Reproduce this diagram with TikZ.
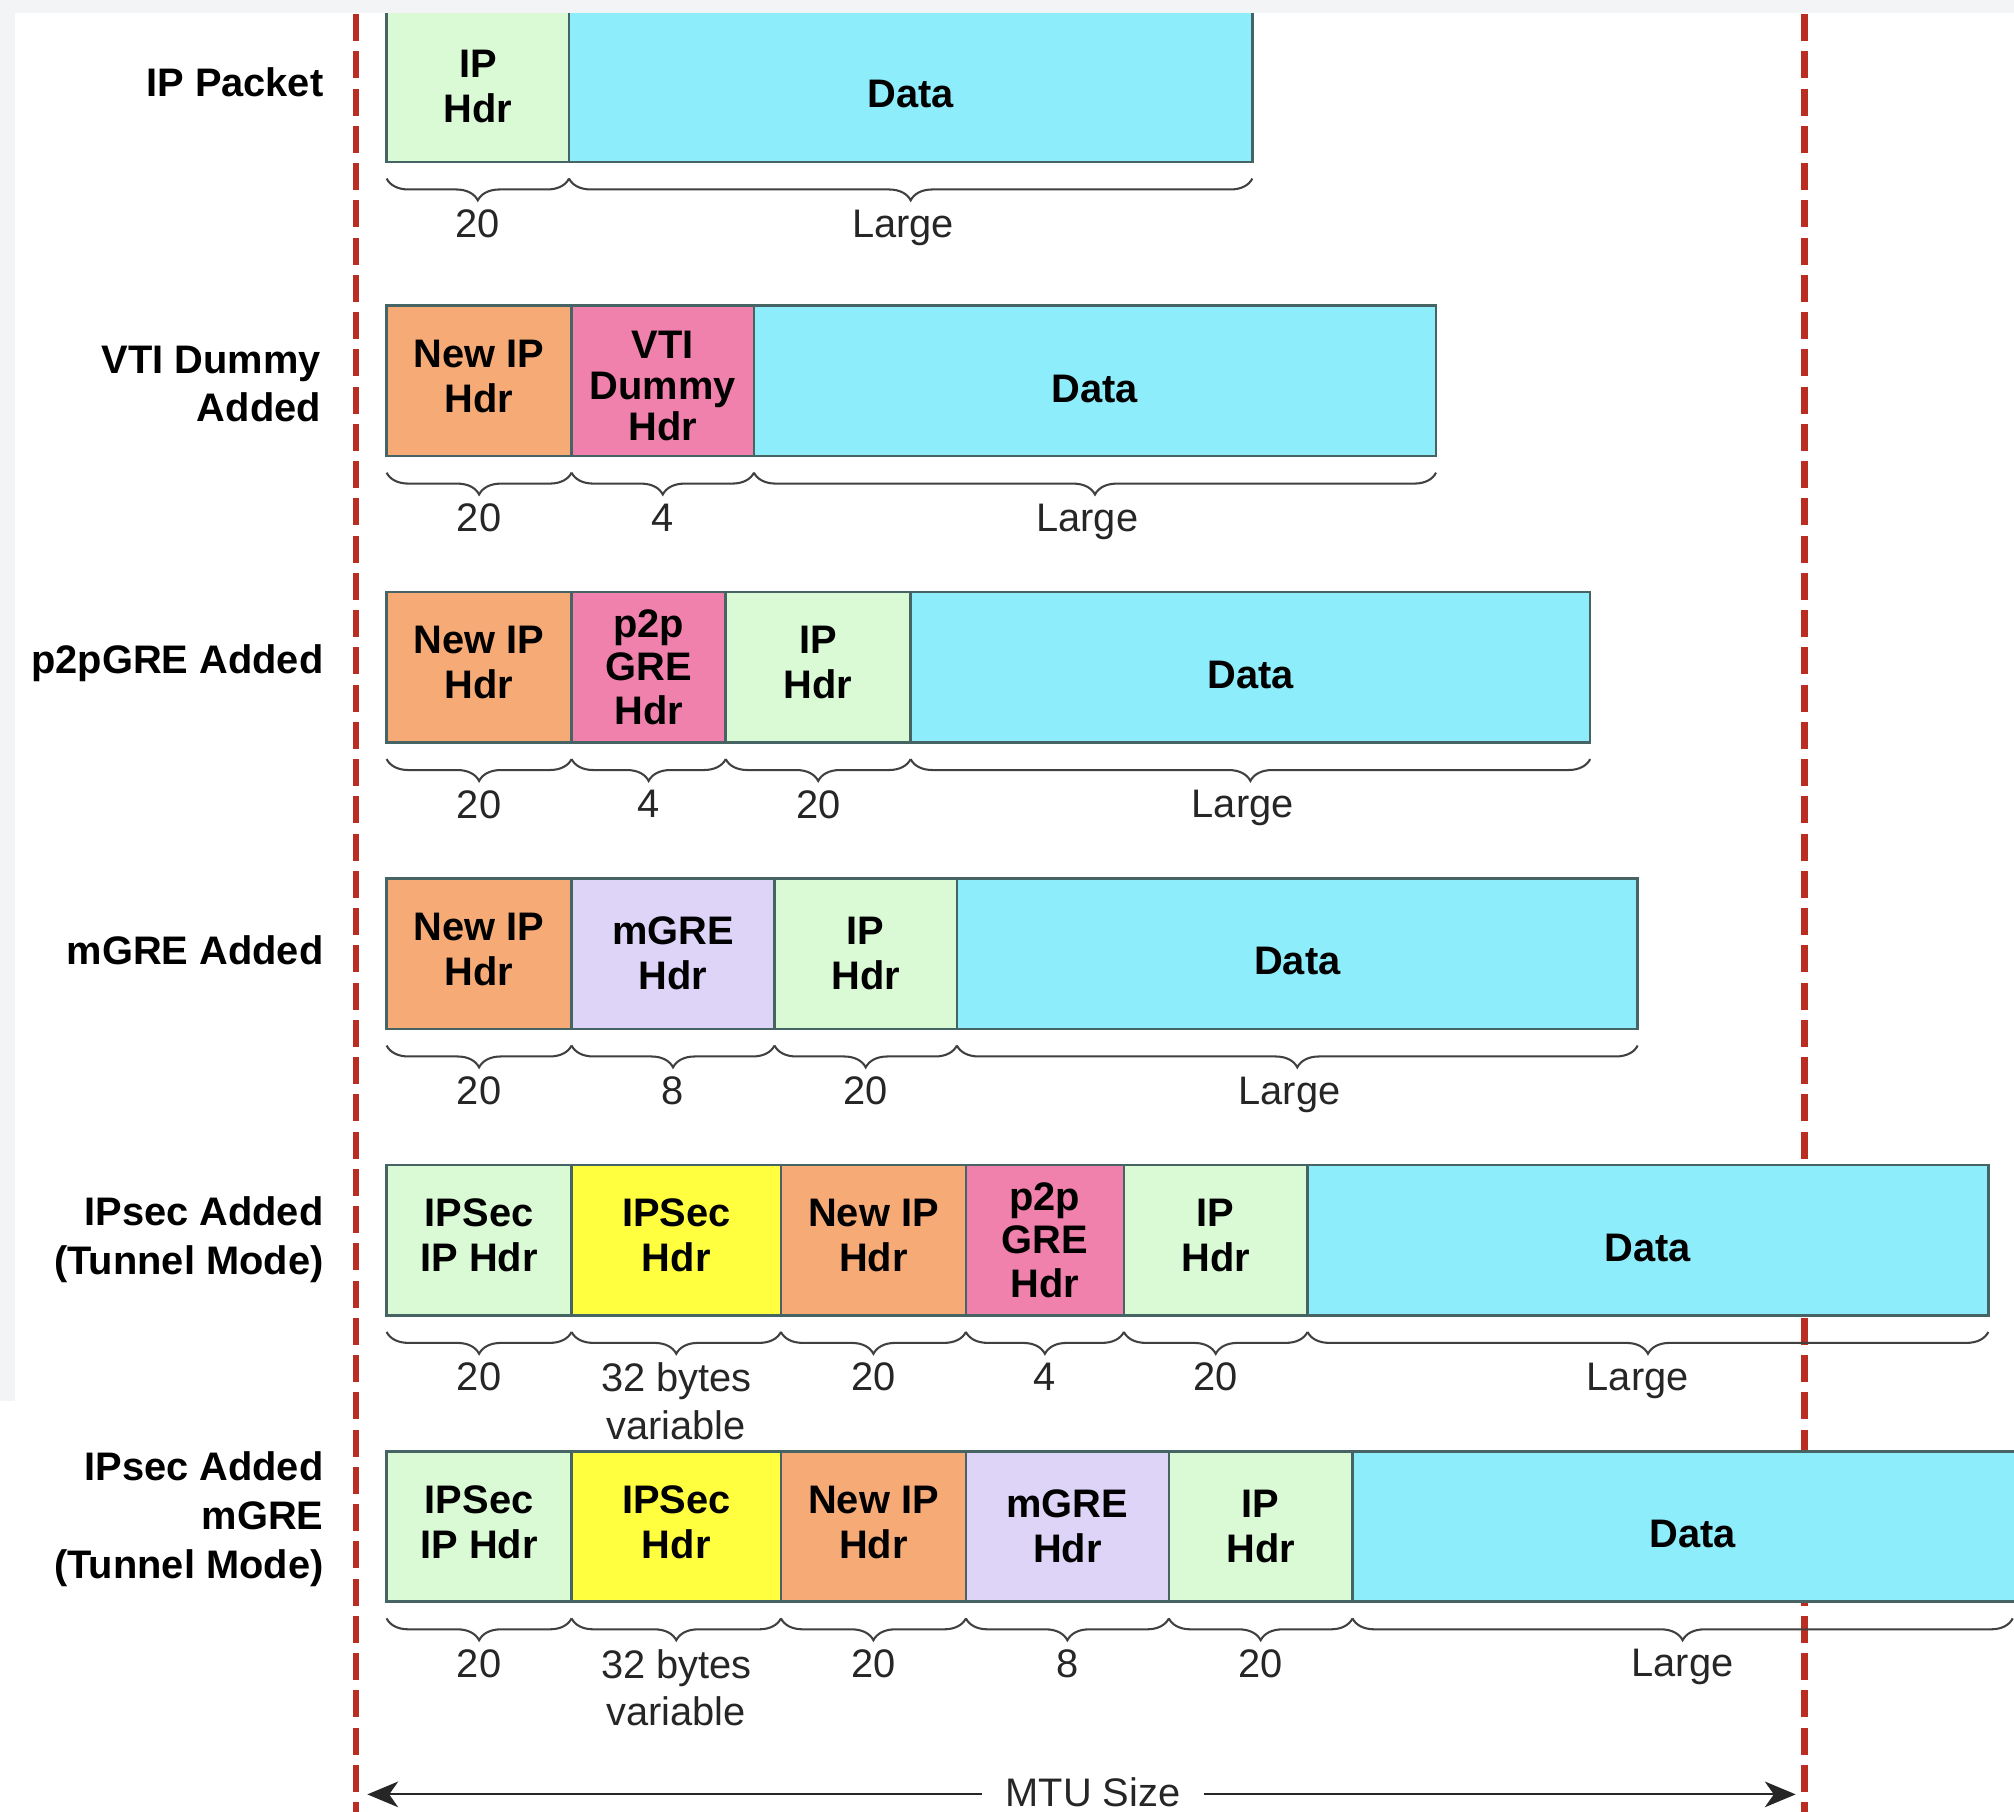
\documentclass[tikz,border=0pt]{standalone}
\usepackage{fontspec}
\setmainfont{Liberation Sans}
\usetikzlibrary{decorations.pathreplacing,arrows.meta}
\definecolor{iphdr}{RGB}{218,250,214}
\definecolor{datac}{RGB}{142,237,250}
\definecolor{orangec}{RGB}{246,170,118}
\definecolor{pinkc}{RGB}{240,128,172}
\definecolor{lavc}{RGB}{222,212,248}
\definecolor{yelc}{RGB}{255,255,64}
\definecolor{segline}{RGB}{70,100,100}
\definecolor{mtured}{RGB}{185,45,35}
\definecolor{bracecol}{RGB}{64,64,64}
\definecolor{margin}{RGB}{243,244,246}
\newcommand\dn[1]{\raisebox{-6pt}[\height][\depth]{#1}}
\newcommand\up[1]{\raisebox{0pt}[\height][\depth]{\begin{tabular}{@{}c@{}}#1\end{tabular}}}
\newcommand\vtitext{\raisebox{-8pt}[\height][\depth]{\begin{tabular}{@{}c@{}}VTI\\Dummy\\Hdr\end{tabular}}}
\begin{document}
\begin{tikzpicture}[x=1pt,y=-1pt,
  seg/.style={draw=segline, line width=2pt, minimum height=117pt, inner sep=0pt, outer sep=0pt,
    anchor=north west, align=center, font=\bfseries\fontsize{31}{35}\selectfont, text=black},
  brc/.style={draw=bracecol, line width=1.6pt, decorate, decoration={brace,mirror,amplitude=17pt}},
  num/.style={anchor=north, inner sep=0pt, font=\fontsize{31}{37}\selectfont, text=black!85, align=center},
  rowlab/.style={anchor=east, align=right, inner sep=0pt, font=\bfseries\fontsize{31}{38}\selectfont},
  mtuline/.style={draw=black!85, line width=1.6pt, -{Stealth[length=24pt,width=20pt,inset=7pt]}},
  redline/.style={line width=5pt, draw=mtured, dash pattern=on 21pt off 8pt}]
\useasboundingbox (0,0) rectangle (1568,1410.7);
\clip (0,0) rectangle (1568,1410.7);
\fill[white] (0,0) rectangle (1568,1410.7);

% MTU limits
\draw[redline] (277,11) -- (277,1420);
\draw[redline] (1405,11) -- (1405,1420);

% Row 1: IP Packet
\node[seg, fill=iphdr, minimum width=142pt] (r1a) at (301,9) {IP\\Hdr};
\node[seg, fill=datac, minimum width=532pt] (r1b) at (443,9) {\dn{Data}};

% Row 2: VTI Dummy
\node[seg, fill=orangec, minimum width=144pt] (r2a) at (301,238) {\up{New IP\\Hdr}};
\node[seg, fill=pinkc, minimum width=142pt, font=\bfseries\fontsize{31}{32}\selectfont] (r2b) at (445,238) {\vtitext};
\node[seg, fill=datac, minimum width=531pt] (r2c) at (587,238) {\dn{Data}};

% Row 3: p2pGRE
\node[seg, fill=orangec, minimum width=144pt] (r3a) at (301,461) {\up{New IP\\Hdr}};
\node[seg, fill=pinkc, minimum width=120pt, font=\bfseries\fontsize{31}{34}\selectfont] (r3b) at (445,461) {p2p\\GRE\\Hdr};
\node[seg, fill=iphdr, minimum width=144pt] (r3c) at (565,461) {\up{IP\\Hdr}};
\node[seg, fill=datac, minimum width=529pt] (r3d) at (709,461) {\dn{Data}};

% Row 4: mGRE
\node[seg, fill=orangec, minimum width=144pt] (r4a) at (301,684) {\up{New IP\\Hdr}};
\node[seg, fill=lavc, minimum width=158pt] (r4b) at (445,684) {mGRE\\Hdr};
\node[seg, fill=iphdr, minimum width=142pt] (r4c) at (603,684) {IP\\Hdr};
\node[seg, fill=datac, minimum width=530pt] (r4d) at (745,684) {\dn{Data}};

% Row 5: IPsec tunnel mode
\node[seg, fill=iphdr, minimum width=144pt] (r5a) at (301,907) {\up{IPSec\\IP Hdr}};
\node[seg, fill=yelc, minimum width=163pt] (r5b) at (445,907) {\up{IPSec\\Hdr}};
\node[seg, fill=orangec, minimum width=144pt] (r5c) at (608,907) {\up{New IP\\Hdr}};
\node[seg, fill=pinkc, minimum width=123pt, font=\bfseries\fontsize{31}{34}\selectfont] (r5d) at (752,907) {p2p\\GRE\\Hdr};
\node[seg, fill=iphdr, minimum width=143pt] (r5e) at (875,907) {\up{IP\\Hdr}};
\node[seg, fill=datac, minimum width=530pt] (r5f) at (1018,907) {\dn{Data}};

% Row 6: IPsec mGRE tunnel mode
\node[seg, fill=iphdr, minimum width=144pt] (r6a) at (301,1130) {\up{IPSec\\IP Hdr}};
\node[seg, fill=yelc, minimum width=163pt] (r6b) at (445,1130) {\up{IPSec\\Hdr}};
\node[seg, fill=orangec, minimum width=144pt] (r6c) at (608,1130) {\up{New IP\\Hdr}};
\node[seg, fill=lavc, minimum width=158pt] (r6d) at (752,1130) {mGRE\\Hdr};
\node[seg, fill=iphdr, minimum width=143pt] (r6e) at (910,1130) {IP\\Hdr};
\draw[segline, line width=2pt, fill=datac] (1053,1130) rectangle (1620,1247);
\node[font=\bfseries\fontsize{31}{35}\selectfont, inner sep=0pt] (r6f) at (1318,1194) {Data};

% Braces and sizes
\newcommand\brlab[3][0pt]{%
  \draw[brc] ([yshift=-13pt]#2.south west) -- ([yshift=-13pt]#2.south east);
  \node[num] (#2-l) at ([yshift=-37pt,xshift=#1]#2.south) {#3};}
\brlab{r1a}{20}\brlab[-6pt]{r1b}{Large}
\brlab{r2a}{20}\brlab{r2b}{4}\brlab[-6pt]{r2c}{Large}
\brlab{r3a}{20}\brlab{r3b}{4}\brlab{r3c}{20}\brlab[-6pt]{r3d}{Large}
\brlab{r4a}{20}\brlab{r4b}{8}\brlab{r4c}{20}\brlab[-6pt]{r4d}{Large}
\brlab{r5a}{20}\brlab{r5b}{32 bytes\\variable}\brlab{r5c}{20}\brlab{r5d}{4}\brlab{r5e}{20}\brlab[-8pt]{r5f}{Large}
\brlab{r6a}{20}\brlab{r6b}{32 bytes\\variable}\brlab{r6c}{20}\brlab{r6d}{8}\brlab{r6e}{20}
\coordinate (r6endL) at (1053,1260);
\coordinate (r6endR) at (1567,1260);
\draw[brc] (r6endL) -- (r6endR);
\node[num] (r6f-l) at (1310,1284) {Large};

% Row labels
\node[rowlab] (l1) at (252,64) {IP Packet};
\node[rowlab] (l2) at (250,299) {VTI Dummy\\Added};
\node[rowlab] (l3) at (252,516) {p2pGRE Added};
\node[rowlab] (l4) at (252,740) {mGRE Added};
\node[rowlab] (l5) at (252,965) {IPsec Added\\(Tunnel Mode)};
\node[rowlab] (l6) at (252,1183) {IPsec Added\\mGRE\\(Tunnel Mode)};

% MTU arrow
\node[font=\fontsize{31}{35}\selectfont, inner xsep=18pt, inner ysep=2pt, text=black!85] (mtu) at (851,1395) {MTU Size};
\coordinate (mtuL) at (286,1397);
\coordinate (mtuR) at (1398,1397);
\draw[mtuline] (mtu.west |- mtuL) -- (mtuL);
\draw[mtuline] (mtu.east |- mtuR) -- (mtuR);

% margins
\fill[margin] (0,0) rectangle (1568,10.5);
\fill[margin] (0,0) rectangle (12,1091);
\end{tikzpicture}
\end{document}
